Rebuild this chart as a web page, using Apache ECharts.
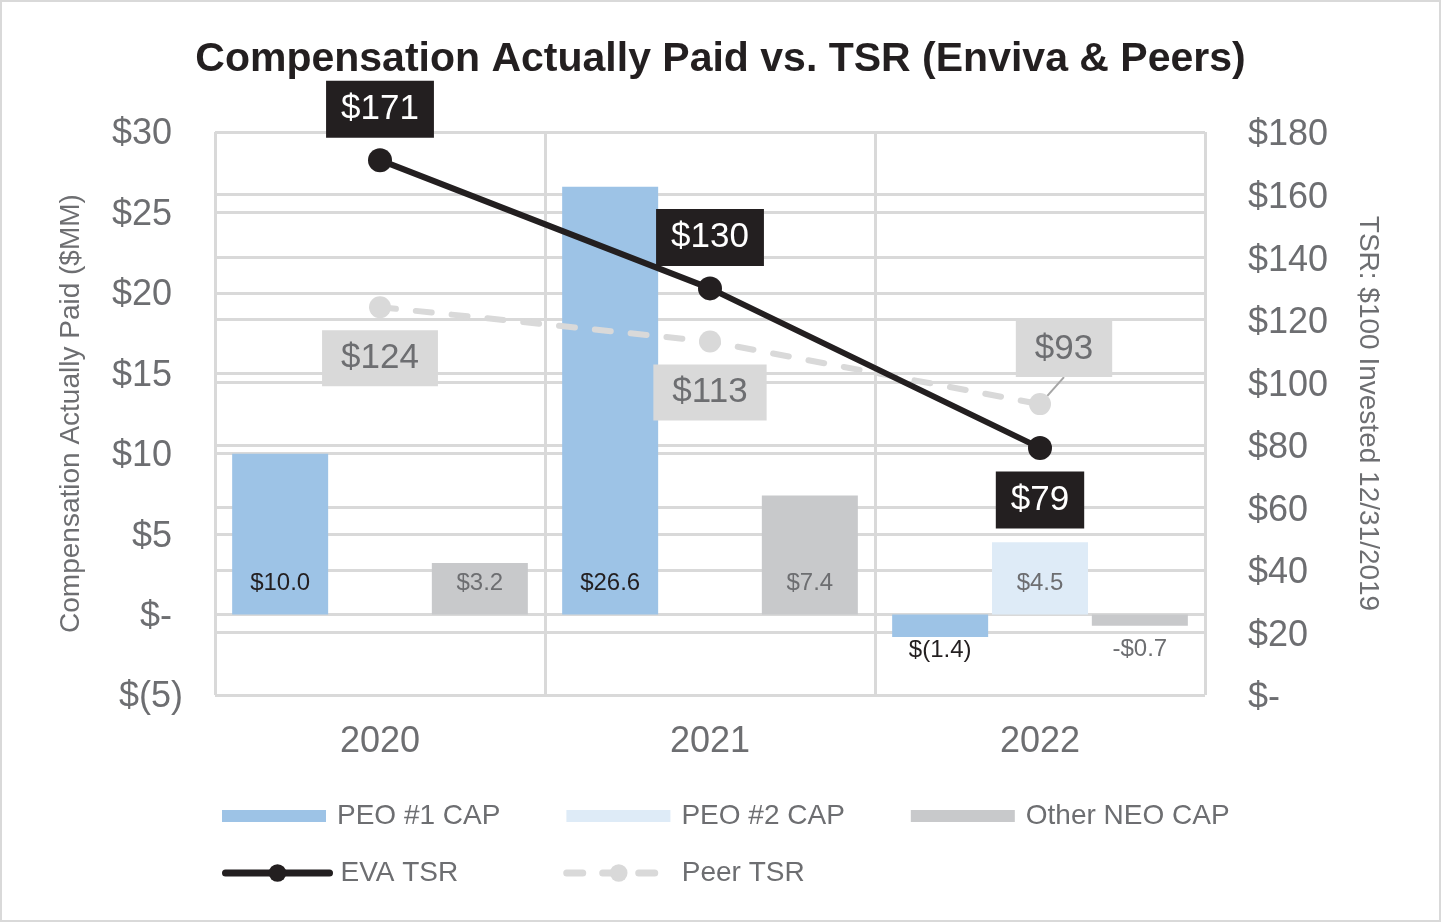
<!DOCTYPE html>
<html>
<head>
<meta charset="utf-8">
<script src="https://cdn.jsdelivr.net/npm/echarts@6/dist/echarts.min.js"></script>
<style>
html,body{margin:0;padding:0;background:#fff;}
#wrap{position:relative;width:1441px;height:922px;}
#chart{position:absolute;left:0;top:0;width:1441px;height:922px;}
#frame{position:absolute;left:0;top:0;width:1441px;height:922px;box-sizing:border-box;border:2px solid #d9d9d9;pointer-events:none;}
</style>
</head>
<body>
<div id="wrap"><div id="chart"></div><div id="frame"></div></div>
<script>
const years = ['2020', '2021', '2022'];
const peo1Cap = [10.0, 26.6, -1.4];
const peo2Cap = [null, null, 4.5];
const otherNeoCap = [3.2, 7.4, -0.7];
const evaTsr = [171, 130, 79];
const peerTsr = [124, 113, 93];

const FONT = '"Liberation Sans", Arial, sans-serif';
const GRAY = '#6d6e71';
const DARK = '#231f20';
const GRID = '#d9d9d9';

function accounting(v) { return v < 0 ? '$(' + Math.abs(v).toFixed(1) + ')' : '$' + v.toFixed(1); }
function minusFmt(v) { return v < 0 ? '-$' + Math.abs(v).toFixed(1) : '$' + v.toFixed(1); }

function barData(arr, color, fmt, negDist) {
  return arr.map(v => {
    if (v === null) return null;
    return {
      value: v,
      label: v >= 0
        ? { show: true, position: 'insideBottom', distance: 19, color: color, formatter: () => fmt(v) }
        : { show: true, position: 'bottom', distance: negDist, color: color, formatter: () => fmt(v) }
    };
  });
}

const legendText = { fontFamily: FONT, fontSize: 28, color: GRAY, padding: [0, 0, 0, 6] };

const chart = echarts.init(document.getElementById('chart'));
const option = {
  backgroundColor: '#fff',
  animation: false,
  textStyle: { fontFamily: FONT },
  title: {
    text: 'Compensation Actually Paid vs. TSR (Enviva & Peers)',
    left: 'center', top: 34,
    textStyle: { fontFamily: FONT, fontSize: 41, fontWeight: 'bold', color: DARK }
  },
  legend: [{
    data: ['PEO #1 CAP', 'PEO #2 CAP', 'Other NEO CAP'],
    left: 217, top: 797, orient: 'horizontal',
    itemWidth: 104, itemHeight: 12, itemGap: 66, icon: 'rect',
    textStyle: legendText
  }, {
    data: ['EVA TSR', 'Peer TSR'],
    left: 217, top: 854, orient: 'horizontal',
    itemWidth: 104, itemHeight: 22, itemGap: 105,
    lineStyle: { width: 7, cap: 'round' },
    textStyle: legendText
  }],
  grid: { left: 215, right: 236, top: 132, bottom: 227, containLabel: false },
  xAxis: {
    type: 'category', data: years, boundaryGap: true,
    axisLine: { show: false }, axisTick: { show: false },
    axisLabel: { fontFamily: FONT, fontSize: 36, color: GRAY, margin: 29 },
    splitLine: { show: true, interval: 0, lineStyle: { color: GRID, width: 3 } }
  },
  yAxis: [{
    type: 'value', min: -5, max: 30, interval: 5,
    name: 'Compensation Actually Paid ($MM)', nameLocation: 'middle', nameGap: 130, nameRotate: 90,
    nameTextStyle: { fontFamily: FONT, fontSize: 28, color: GRAY },
    axisLine: { show: false }, axisTick: { show: false },
    axisLabel: { fontFamily: FONT, fontSize: 36, color: GRAY, margin: 32, padding: [5, 0, 0, 0],
      formatter: v => v < 0 ? '$(' + (-v) + ')' : (v === 0 ? '$-' : '$' + v) + '{s|}',
      rich: { s: { width: 11 } } },
    splitLine: { show: true, lineStyle: { color: GRID, width: 3 } }
  }, {
    type: 'value', min: 0, max: 180, interval: 20, position: 'right',
    name: 'TSR: $100 Invested 12/31/2019', nameLocation: 'middle', nameGap: 149, nameRotate: -90,
    nameTextStyle: { fontFamily: FONT, fontSize: 28, color: GRAY },
    axisLine: { show: false }, axisTick: { show: false },
    axisLabel: { fontFamily: FONT, fontSize: 36, color: GRAY, margin: 43, padding: [7, 0, 0, 0],
      formatter: v => (v === 0 ? '$-' : '$' + v) + '{s|}',
      rich: { s: { width: 0 } } },
    splitLine: { show: true, lineStyle: { color: GRID, width: 3 } }
  }],
  series: [{
    name: 'PEO #1 CAP', type: 'bar', yAxisIndex: 0, barWidth: 96, barGap: '4%',
    itemStyle: { color: '#9dc3e6' },
    label: { fontFamily: FONT, fontSize: 24 },
    data: barData(peo1Cap, DARK, accounting, 1), z: 2
  }, {
    name: 'PEO #2 CAP', type: 'bar', yAxisIndex: 0, barWidth: 96, barGap: '4%',
    itemStyle: { color: '#deebf7' },
    label: { fontFamily: FONT, fontSize: 24 },
    data: barData(peo2Cap, GRAY, minusFmt, 1), z: 2
  }, {
    name: 'Other NEO CAP', type: 'bar', yAxisIndex: 0, barWidth: 96, barGap: '4%',
    itemStyle: { color: '#c8c9cb' },
    label: { fontFamily: FONT, fontSize: 24 },
    data: barData(otherNeoCap, GRAY, minusFmt, 12), z: 2
  }, {
    name: 'Peer TSR', type: 'line', yAxisIndex: 1,
    symbol: 'circle', symbolSize: 22,
    itemStyle: { color: '#d9d9d9' },
    lineStyle: { color: '#d9d9d9', width: 6, type: [16, 20], cap: 'round' },
    label: {
      show: true, position: 'inside', fontFamily: FONT, fontSize: 35, color: GRAY,
      backgroundColor: '#d9d9d9', padding: [11, 19, 10, 19],
      formatter: p => '$' + p.value
    },
    labelLayout: p => p.dataIndex === 2 ? { dx: 24, dy: -55 } : { dx: 0, dy: 51 },
    data: peerTsr.map((v, i) => i === 2
      ? { value: v, labelLine: { show: true, lineStyle: { color: '#a6a6a6', width: 2 } } }
      : v),
    z: 3
  }, {
    name: 'EVA TSR', type: 'line', yAxisIndex: 1,
    symbol: 'circle', symbolSize: 24,
    itemStyle: { color: DARK },
    lineStyle: { color: DARK, width: 6 },
    label: {
      show: true, position: 'inside', fontFamily: FONT, fontSize: 35, color: '#fff',
      backgroundColor: DARK, padding: [12, 15, 10, 15],
      formatter: p => '$' + p.value
    },
    labelLayout: p => p.dataIndex === 2 ? { dx: 0, dy: 52 } : { dx: 0, dy: -51 },
    data: evaTsr,
    z: 4
  }]
};
chart.setOption(option);
</script>
</body>
</html>
